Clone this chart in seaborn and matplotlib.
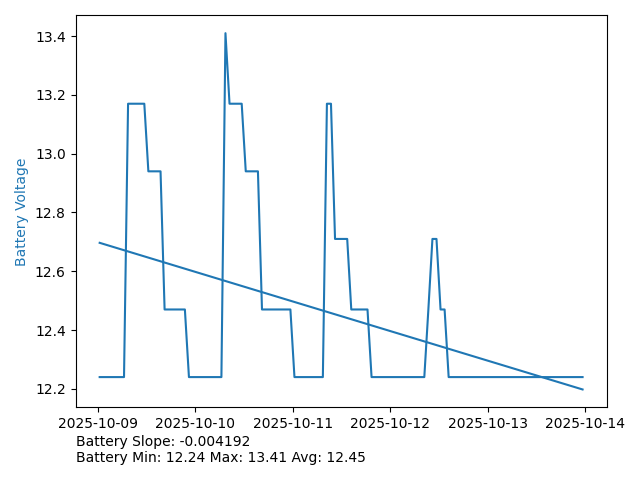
import pandas as pd
import numpy as np
import matplotlib
matplotlib.use('Agg')
import matplotlib.pyplot as plt
import seaborn as sns

# hourly battery readings, 2025-10-09 00:24 onwards
start_time = '2025-10-09 00:24'
voltage = (
    [12.24] * 7 + [13.17] * 5 + [12.94] * 4 + [12.47] * 6 + [12.24] * 9
    + [13.41] + [13.17] * 4 + [12.94] * 4 + [12.47] * 8 + [12.24] * 8
    + [13.17] * 2 + [12.71] * 4 + [12.47] * 5 + [12.24] * 14
    + [12.47] + [12.71] * 2 + [12.47] * 2 + [12.24] * 34
)
slope_text = 'Battery Slope: -0.004192'
stats_text = 'Battery Min: 12.24 Max: 13.41 Avg: 12.45'

df = pd.DataFrame({'time': pd.date_range(start_time, periods=len(voltage), freq='h'),
                   'voltage': voltage})
df['hour'] = np.arange(len(df))

# linear trend over the hour index
m, b = np.polyfit(df['hour'], df['voltage'], 1)
trend = pd.DataFrame({'time': df['time'].iloc[[0, -1]],
                      'voltage': m * df['hour'].iloc[[0, -1]] + b})

fig, ax = plt.subplots(figsize=(6.4, 4.8), dpi=100)
fig.subplots_adjust(left=0.118, right=0.948, top=0.968, bottom=0.1515)

sns.lineplot(data=df, x='time', y='voltage', ax=ax, color='tab:blue')
sns.lineplot(data=trend, x='time', y='voltage', ax=ax, color='tab:blue')

ax.set_xlabel('')
ax.set_ylabel('Battery Voltage', color='tab:blue')
ax.xaxis.set_major_formatter(matplotlib.dates.DateFormatter('%Y-%m-%d'))

ax.text(0, -0.071, slope_text + '\n' + stats_text, transform=ax.transAxes,
        ha='left', va='top', fontsize=10)

plt.savefig('out.png', dpi=100)
